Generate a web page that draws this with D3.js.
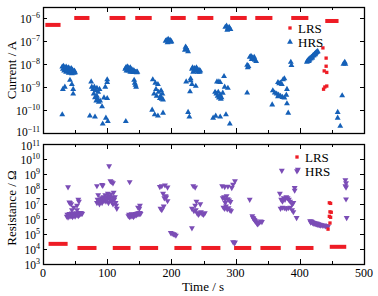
<!DOCTYPE html>
<html>
<head>
<meta charset="utf-8">
<script src="https://cdn.jsdelivr.net/npm/d3@7"></script>
<style>
  body { margin: 0; background: #fff; }
  svg { display: block; font-family: "Liberation Serif", "DejaVu Serif", serif; }
</style>
</head>
<body>
<svg id="chart" width="378" height="296"></svg>
<script>
// LRS plateaus (time start / end in s, level)
var lrsCurStart = [6, 51, 106, 146, 201, 243, 294, 333, 389, 442]
var lrsCurEnd   = [25, 70, 126, 167, 220, 263, 315, 355, 411, 458]
var lrsCurVal   = [5e-7, 1e-6, 1e-6, 1e-6, 1e-6, 1e-6, 1e-6, 1e-6, 1e-6, 7.4e-7]

var lrsResStart = [11, 56, 111, 153, 207, 249, 300, 341, 396, 449]
var lrsResEnd   = [36, 81, 134, 177, 229, 274, 322, 368, 419, 470]
var lrsResVal   = [2.2e4, 1.17e4, 1.17e4, 1.17e4, 1.17e4, 1.17e4, 1.17e4, 1.17e4, 1.17e4, 1.4e4]

// scattered LRS points [time, value]
var lrsCurPts = [[436,5e-8],[441,1.8e-8],[441,8e-9],[438,5e-9],[442,4.3e-9],[439,1e-9],[442,1.1e-9],[437,8e-10]]
var lrsResPts = [[446,1.2e7],[448,1.1e7],[447,3e6],[449,2.8e6],[446,1.5e6],[448,1.3e6],[447,5.4e5],[444,2.1e5]]

// HRS current [time, A]
var hrsCur = [
  [30,7.5e-9],[31,6e-9],[32,8e-9],[33,5e-9],[34,7e-9],[35,6e-9],[36,4.5e-9],[37,7e-9],[38,5.5e-9],[39,6.5e-9],
  [40,4e-9],[41,5e-9],[42,6e-9],[43,4.2e-9],[44,5e-9],[45,3.8e-9],[46,5.5e-9],[47,4.5e-9],[48,4e-9],[49,5e-9],
  [50,4.2e-9],[36,7.5e-9],[40,7e-9],[44,6.5e-9],
  [31,8e-10],[34,1e-9],[42,2e-9],[45,1.3e-9],[47,8e-10],[47,5e-10],[30,6.3e-11],
  [75,1.7e-9],[76,1e-9],[78,8e-10],[80,1e-9],[82,7e-10],[84,9e-10],[86,6e-10],[88,8e-10],[79,5e-10],[81,3.5e-10],
  [83,2.5e-10],[85,3e-10],[87,2.2e-10],[89,2.5e-10],[84,4e-10],[73,5.6e-11],[81,5e-11],[93,2.5e-11],[98,4.5e-11],
  [101,3.2e-11],[100,2.1e-9],[100,1.6e-9],[97,1e-9],[95,3.4e-10],[100,3.2e-10],[92,1.4e-10],
  [128,6e-9],[129,7e-9],[130,5e-9],[131,7.5e-9],[132,6e-9],[133,5e-9],[134,6.5e-9],[135,5.5e-9],[136,4.5e-9],
  [137,6e-9],[138,5e-9],[139,4.5e-9],[140,5.5e-9],[141,4.3e-9],[142,5e-9],[143,4.5e-9],[144,4.3e-9],[145,4.5e-9],
  [146,4.2e-9],[147,4.5e-9],[132,7.5e-9],[136,7e-9],
  [142,2e-9],[143,1.5e-9],[144,1.2e-9],[145,1e-9],[129,3.2e-11],
  [171,2.1e-9],[175,1.5e-9],[179,1.3e-9],[184,7e-10],[186,5e-10],[173,5e-10],[177,4e-10],[182,3.2e-10],[187,2.8e-10],
  [180,6e-10],[176,8e-10],[170,1e-10],[174,6.3e-11],[179,5.6e-11],[187,7.4e-11],[183,4e-10],[185,3e-10],
  [191,1e-7],[193,1.1e-7],[195,1.2e-7],[197,1e-7],[199,9e-8],[194,8.5e-8],[198,1.1e-7],[200,9.5e-8],
  [221,4e-8],[223,5e-8],[224,4.5e-8],[226,3.5e-8],[222,5.5e-8],
  [232,6e-9],[233,7e-9],[235,5e-9],[236,6.5e-9],[238,5.5e-9],[240,6e-9],[241,4.5e-9],[243,5.5e-9],[244,4.5e-9],
  [245,5e-9],[234,4.5e-9],[239,7e-9],
  [223,1.7e-9],[230,2.3e-9],[230,1.9e-9],[232,1.3e-9],[238,1.1e-9],[229,6.3e-10],[226,8e-11],[228,5e-11],
  [284,4e-7],[286,4.5e-7],[288,3.5e-7],[290,4e-7],[292,3.2e-7],[287,3e-7],
  [282,2.9e-9],[271,1.7e-9],[274,1.7e-9],[276,1.6e-9],[268,6e-10],[270,5e-10],[272,4e-10],[274,3.4e-10],[276,4.5e-10],
  [278,3.5e-10],[280,5.5e-10],[273,6e-10],[277,3e-10],[283,1e-9],[288,9e-10],[265,4.5e-11],[269,5.5e-11],[276,5e-11],
  [285,6.3e-11],[291,2.5e-11],
  [318,5.6e-10],[322,2e-8],[324,2.2e-8],[326,1.9e-8],[328,1.7e-8],[330,1.5e-8],[332,1.3e-8],[325,1.6e-8],[329,2e-8],
  [318,9e-9],[320,8e-9],[319,7e-9],
  [374,2.1e-9],[376,2.3e-9],[366,1.6e-9],[368,1.4e-9],[370,1.5e-9],[372,1.3e-9],[380,8e-10],[361,5.6e-10],[364,5e-10],
  [367,4.5e-10],[370,4e-10],[373,3.6e-10],[376,3.4e-10],[379,4.5e-10],[366,3.8e-10],[380,1.9e-10],[382,7.4e-11],
  [357,1.7e-10],[358,7e-10],
  [386,1.2e-8],[387,8.7e-9],
  [411,1.2e-8],[412,1.4e-8],[413,1.3e-8],[414,1.6e-8],[415,1.5e-8],[416,1.8e-8],[417,1.7e-8],[418,2e-8],[419,2e-8],
  [420,2.2e-8],[421,2.4e-8],[422,2.3e-8],[423,2.7e-8],[424,2.9e-8],[425,3e-8],[426,3.2e-8],[427,3.4e-8],[428,3.5e-8],
  [414,1.3e-8],[419,1.8e-8],[424,2.6e-8],
  [468,1e-8],[470,1.2e-8],[471,1e-8],[466,4.2e-10],[459,8e-11],[459,4.5e-11],[463,2e-11]
]

// HRS resistance [time, ohm]
var hrsRes = [
  [39,1.35e8],[41,1.3e7],[42,1.2e7],[44,1e7],[55,2e7],[56,1.5e7],[53,8e6],[53,4e6],[48,6e6],[45,4e6],
  [37,1.5e6],[38,2e6],[39,1.3e6],[40,1.8e6],[41,2.3e6],[42,1.5e6],[43,2e6],[44,1.6e6],[45,2.4e6],[46,1.4e6],
  [47,2e6],[48,1.7e6],[49,2.2e6],[50,1.5e6],[51,2e6],[52,2.5e6],[53,1.8e6],[54,2.2e6],[55,1.6e6],[56,2.4e6],
  [57,2e6],[58,2.6e6],[59,2.2e6],[60,2.5e6],[61,2.3e6],
  [84,1.6e8],[92,1.9e8],[93,1.7e8],[103,3.4e9],[105,3.4e8],[107,3e8],[109,2.5e8],
  [84,1.2e7],[85,2e7],[86,4e7],[87,1.5e7],[88,1e7],[90,1.8e7],[91,2.5e7],[92,1.2e7],[94,3e7],[95,1.6e7],
  [96,2.2e7],[97,4e7],[98,1.5e7],[99,3e7],[100,2e7],[101,5e7],[102,1.2e7],[103,3.5e7],[104,2.5e7],[105,1.8e7],
  [106,4.5e7],[107,1.4e7],[108,2.8e7],[109,1e7],[110,6e7],[111,2e7],[112,3e7],[113,1.2e7],[114,8e6],[115,5e6],
  [135,3e8],
  [133,1.6e6],[134,2e6],[135,1.4e6],[136,1.8e6],[137,1.5e6],[138,2.2e6],[139,1.6e6],[140,1.9e6],[141,1.4e6],
  [142,2e6],[143,1.7e6],[144,2.3e6],[145,1.8e6],[146,2e6],[147,2.4e6],[148,2.1e6],[149,2.5e6],[150,2.2e6],
  [151,2.6e6],[152,2.3e6],[151,8e6],[150,5e6],[148,6e6],
  [182,1.4e8],[185,1.6e8],[190,1.8e8],[194,1.3e8],[187,5e7],[189,2.5e7],[192,2.8e7],[194,1.6e7],[191,3.5e7],
  [183,5e6],[185,4e6],[188,7e6],[201,1.1e5],[203,1e5],[205,9.5e4],[207,8e4],[199,1.2e5],
  [234,1.6e8],[237,1.3e8],[239,1.5e7],[232,5e6],[235,3.5e6],[238,4e6],[240,2.5e6],[242,2e6],[244,2.4e6],
  [246,3e6],[248,2.2e6],[250,2e6],[252,2.5e6],[237,8e6],[245,1e7],[232,2.5e5],
  [279,1.6e8],[283,1.4e8],[288,1.5e8],[294,1.2e8],[299,3.4e8],[296,2e8],
  [280,2.5e7],[282,3e7],[284,2e7],[286,3.5e7],[288,2.2e7],[290,1.8e7],[292,1.4e7],[284,1.2e7],
  [281,6e6],[283,5e6],[285,7e6],[287,4.5e6],[289,5.5e6],[291,4e6],[293,3.5e6],[296,3e4],[298,2.5e4],[299,2.8e4],
  [322,2e7],[326,1.6e6],[327,1.2e6],[329,9e5],[331,7e5],[333,5.5e5],[335,5e5],[337,6e5],[339,7e5],[341,6.5e5],
  [330,8e5],[334,4.5e5],[328,1.1e6],
  [372,1.7e9],[397,2e9],[392,8e7],[392,1.2e8],[369,5e7],[371,2e7],[373,1.5e7],[375,2.5e7],[377,2e7],[379,3e7],
  [381,2.5e7],[383,2e7],[385,1.5e7],[388,1e7],[390,1.2e7],[370,5e6],[373,6e6],[376,5.5e6],[379,5e6],[382,5.5e6],
  [385,6e6],[388,4e6],[390,3e6],[395,1.2e6],
  [416,7.5e5],[417,6e5],[418,7e5],[419,6.5e5],[420,5.5e5],[421,6e5],[422,5e5],[423,5.5e5],[424,4.8e5],[425,5.2e5],
  [426,4.5e5],[427,5e5],[428,4.2e5],[429,4.6e5],[430,4e5],[431,4.3e5],[432,3.8e5],[434,4e5],[436,3.6e5],[438,3.8e5],
  [440,3.4e5],[442,3.5e5],[444,3.2e5],
  [471,4e8],[472,2.5e8],[471,1.6e8],[472,1.3e8],[472,2.1e7],[473,1.2e6]
]

var xTicks = [0, 100, 200, 300, 400, 500]
var xMinor = [50, 150, 250, 350, 450]
var curExp = [-11, -10, -9, -8, -7, -6]
var resExp = [3, 4, 5, 6, 7, 8, 9, 10, 11]

var red = '#ee1c25', blue = '#1560b8', purple = '#7b4db6'

var svg = d3.select('#chart')
var left = 43, right = 364

var x = d3.scaleLinear().domain([0, 500]).range([left, right])
var yTop = d3.scaleLog().domain([1e-11, 3e-6]).range([133, 7])
var yBot = d3.scaleLog().domain([1e3, 1e11]).range([264, 144])

function sup(v) { return String(v).replace('-', '\u2212') }

function panel(y, exps, title, titleY, nudge) {
  var y0 = y.range()[0], y1 = y.range()[1]
  var g = svg.append('g')

  // decade ticks (inside, both sides)
  exps.forEach(function(e) {
    var yy = Math.round(y(Math.pow(10, e))) + 0.5
    g.append('line').attr('x1', left).attr('x2', left + 4).attr('y1', yy).attr('y2', yy)
      .attr('stroke', '#000')
    g.append('line').attr('x1', right - 4).attr('x2', right).attr('y1', yy).attr('y2', yy)
      .attr('stroke', '#000')
    var t = g.append('text').attr('x', 40).attr('y', yy + 4 + (nudge[e] || 0))
      .attr('text-anchor', 'end').attr('font-size', 11.5).text('10')
    t.append('tspan').attr('dy', -4.5).attr('font-size', 8).text(sup(e))
  })

  // time ticks on top and bottom edges
  xTicks.concat(xMinor).forEach(function(v) {
    var len = xTicks.indexOf(v) >= 0 ? 5 : 3
    var xx = Math.round(x(v)) + 0.5
    g.append('line').attr('x1', xx).attr('x2', xx).attr('y1', y0).attr('y2', y0 - len).attr('stroke', '#000')
    g.append('line').attr('x1', xx).attr('x2', xx).attr('y1', y1).attr('y2', y1 + len).attr('stroke', '#000')
  })

  g.append('rect').attr('x', left + 0.5).attr('y', y1 + 0.5)
    .attr('width', right - left).attr('height', y0 - y1)
    .attr('fill', 'none').attr('stroke', '#000').attr('stroke-width', 1.3)

  g.append('text').attr('transform', 'translate(16,' + titleY + ') rotate(-90)')
    .attr('text-anchor', 'middle').attr('font-size', 13).text(title)
  return g
}

panel(yTop, curExp, 'Current / A', 70, {'-11': -1.5})
panel(yBot, resExp, 'Resistance / \u03a9', 208, {'11': 1.5})

// x labels
xTicks.forEach(function(v) {
  svg.append('text').attr('x', x(v)).attr('y', 277).attr('text-anchor', 'middle')
    .attr('font-size', 12).text(v)
})
svg.append('text').attr('x', 203).attr('y', 291).attr('text-anchor', 'middle')
  .attr('font-size', 13).text('Time / s')

var tri = d3.symbol().type(d3.symbolTriangle).size(15)
var sq = d3.symbol().type(d3.symbolSquare).size(11)

// LRS plateaus
function plateaus(y, starts, ends, vals) {
  svg.append('g').selectAll('rect').data(starts).enter().append('rect')
    .attr('x', function(d) { return x(d) - 1.5 })
    .attr('width', function(d, i) { return x(ends[i]) - x(d) + 3 })
    .attr('y', function(d, i) { return y(vals[i]) - 2 })
    .attr('height', 4)
    .attr('fill', red)
}
plateaus(yTop, lrsCurStart, lrsCurEnd, lrsCurVal)
plateaus(yBot, lrsResStart, lrsResEnd, lrsResVal)

// HRS points
svg.append('g').selectAll('path').data(hrsCur).enter().append('path')
  .attr('d', tri)
  .attr('transform', function(d) { return 'translate(' + x(d[0]) + ',' + yTop(d[1]) + ')' })
  .attr('fill', blue)

svg.append('g').selectAll('path').data(hrsRes).enter().append('path')
  .attr('d', tri)
  .attr('transform', function(d) { return 'translate(' + x(d[0]) + ',' + yBot(d[1]) + ') rotate(180)' })
  .attr('fill', purple)

// scattered LRS points
svg.append('g').selectAll('path').data(lrsCurPts).enter().append('path')
  .attr('d', sq)
  .attr('transform', function(d) { return 'translate(' + x(d[0]) + ',' + yTop(d[1]) + ')' })
  .attr('fill', red)
svg.append('g').selectAll('path').data(lrsResPts).enter().append('path')
  .attr('d', sq)
  .attr('transform', function(d) { return 'translate(' + x(d[0]) + ',' + yBot(d[1]) + ')' })
  .attr('fill', red)

// legends
function legend(lx, ly, rot, col) {
  var g = svg.append('g')
  g.append('path').attr('d', sq).attr('transform', 'translate(' + lx + ',' + ly + ')').attr('fill', red)
  g.append('text').attr('x', lx + 8).attr('y', ly + 4.5).attr('font-size', 13).text('LRS')
  g.append('path').attr('d', tri).attr('transform', 'translate(' + lx + ',' + (ly + 14) + ') rotate(' + rot + ')').attr('fill', col)
  g.append('text').attr('x', lx + 8).attr('y', ly + 18.5).attr('font-size', 13).text('HRS')
}
legend(290, 28, 0, blue)
legend(297, 157, 180, purple)
</script>
</body>
</html>
